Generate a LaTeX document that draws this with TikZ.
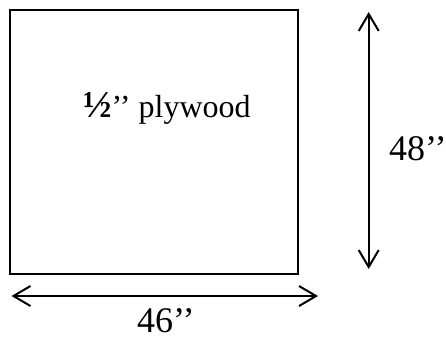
\documentclass[tikz,border=0pt]{standalone}
\usepackage{fontspec}
\setmainfont{Liberation Serif}
\usetikzlibrary{arrows.meta}
\begin{document}
\begin{tikzpicture}[x=1bp,y=-1bp,
  edge/.style={line width=2bp},
  dim/.style={line width=2bp,{Straight Barb[length=17bp,width=20bp,line width=2bp]}-{Straight Barb[length=17bp,width=20bp,line width=2bp]}},
  lbl/.style={inner sep=0pt,anchor=base west}]
\useasboundingbox (0,0) rectangle (446,339);
\node[draw,edge,minimum width=288bp,minimum height=264bp,inner sep=0pt,anchor=north west] (sheet) at (8.7,8.7) {};
\coordinate (vt) at (368.7,12);
\coordinate (vb) at (368.7,269);
\coordinate (hl) at (11.5,296);
\coordinate (hr) at (318,296);
\draw[dim] (vt) -- (vb);
\draw[dim] (hl) -- (hr);
\node[lbl,font=\fontsize{32bp}{36bp}\selectfont] (name) at (83,117) {{\fontsize{38bp}{40bp}\selectfont\textbf{½}}’’ plywood};
\node[lbl,font=\fontsize{36bp}{40bp}\selectfont] (h) at (389,160) {48’’};
\node[lbl,font=\fontsize{36bp}{40bp}\selectfont] (w) at (137,332) {46’’};
\end{tikzpicture}
\end{document}
